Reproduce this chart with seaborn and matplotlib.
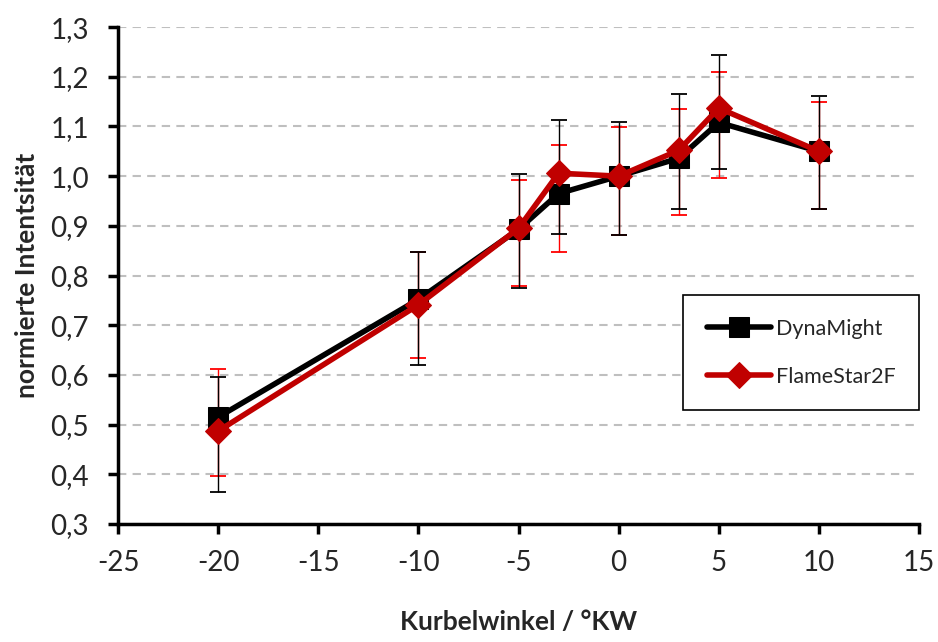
import matplotlib
matplotlib.use("Agg")
import matplotlib.pyplot as plt
import seaborn as sns
import numpy as np
from matplotlib.ticker import FuncFormatter, MultipleLocator

# Kurbelwinkel (x) and the two measurement series
kurbelwinkel = [-20, -10, -5, -3, 0, 3, 5, 10]

dyna = [0.515, 0.752, 0.893, 0.965, 1.000, 1.036, 1.108, 1.050]
dyna_hi = [0.596, 0.848, 1.004, 1.113, 1.109, 1.165, 1.244, 1.161]
dyna_lo = [0.365, 0.620, 0.774, 0.883, 0.881, 0.933, 1.014, 0.933]

flame = [0.487, 0.741, 0.895, 1.006, 1.000, 1.052, 1.137, 1.050]
flame_hi = [0.611, 0.848, 0.992, 1.063, 1.098, 1.136, 1.210, 1.149]
flame_lo = [0.397, 0.635, 0.779, 0.848, 0.881, 0.922, 0.997, 0.933]

sns.set_style("white")
plt.rcParams["font.family"] = ["Lato", "DejaVu Sans"]

fig = plt.figure(figsize=(9.38, 6.42), dpi=100)
ax = fig.add_axes([0.1258, 0.1838, 0.854, 0.774])

# error bars first (red, then black on top)
x = np.array(kurbelwinkel)
f = np.array(flame)
d = np.array(dyna)
ax.errorbar(x, f, yerr=[f - np.array(flame_lo), np.array(flame_hi) - f],
            fmt="none", ecolor="#FF0000", elinewidth=1.0, capsize=6, capthick=1.3, zorder=2)
ax.errorbar(x, d, yerr=[d - np.array(dyna_lo), np.array(dyna_hi) - d],
            fmt="none", ecolor="black", elinewidth=1.0, capsize=6, capthick=1.3, zorder=2)

sns.lineplot(x=kurbelwinkel, y=dyna, color="black", marker="s", markersize=14,
             markeredgecolor="black", linewidth=4, label="DynaMight", ax=ax, zorder=3)
sns.lineplot(x=kurbelwinkel, y=flame, color="#C00000", marker="D", markersize=13,
             markeredgecolor="#C00000", linewidth=4, label="FlameStar2F", ax=ax, zorder=4)

ax.set_xlim(-25, 15)
ax.set_ylim(0.3, 1.3)
ax.xaxis.set_major_locator(MultipleLocator(5))
ax.yaxis.set_major_locator(MultipleLocator(0.1))
ax.yaxis.set_major_formatter(FuncFormatter(lambda v, p: f"{v:.1f}".replace(".", ",")))
ax.xaxis.set_major_formatter(FuncFormatter(lambda v, p: f"{v:.0f}"))

ax.yaxis.grid(True, color="#BFBFBF", linestyle=(0, (4, 3)), linewidth=1.5)
ax.xaxis.grid(False)
ax.set_axisbelow(True)

for s in ["top", "right"]:
    ax.spines[s].set_visible(False)
for s in ["left", "bottom"]:
    ax.spines[s].set_color("black")
    ax.spines[s].set_linewidth(2.5)

ax.tick_params(axis="both", direction="out", length=7, width=2.5, color="black",
               labelsize=20, left=True, bottom=True)
ax.tick_params(axis="y", pad=14)
ax.tick_params(axis="x", pad=12)

ax.set_xlabel("Kurbelwinkel / °KW", fontsize=19, fontweight="bold", labelpad=24)
ax.set_ylabel("normierte Intentsität", fontsize=19, fontweight="bold", labelpad=8)

leg = ax.legend(loc="upper right", bbox_to_anchor=(1.0, 0.461), fontsize=15.5,
                frameon=True, fancybox=False, edgecolor="black", framealpha=1,
                handlelength=3.0, borderpad=1.1, labelspacing=1.3, handletextpad=0.2,
                borderaxespad=0)
leg.get_frame().set_linewidth(1.2)

fig.savefig("out.png", dpi=100)
